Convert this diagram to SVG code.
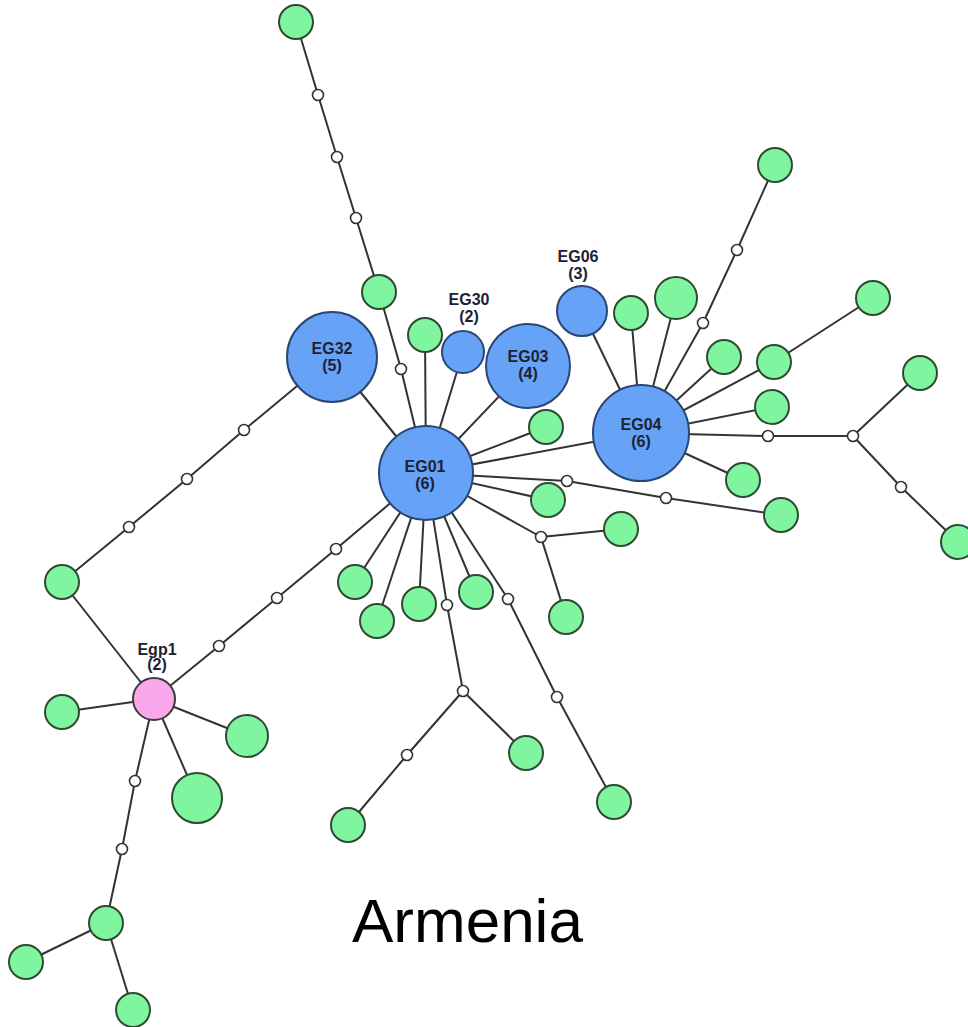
<svg xmlns="http://www.w3.org/2000/svg" width="968" height="1027" viewBox="0 0 968 1027">
  <style>
    .edge { fill: none; stroke: #333; stroke-width: 2; stroke-linejoin: round; }
    .hap { fill: #80f5a0; stroke: #2f4a33; stroke-width: 2; }
    .grp { fill: #66a3f7; stroke: #2b4675; stroke-width: 2; }
    .pink { fill: #f9a8ec; stroke: #3a3a3a; stroke-width: 2; }
    .med { fill: #fff; stroke: #333; stroke-width: 1.6; }
    .lbl { font-family: "Liberation Sans", Arial, sans-serif; font-weight: bold; font-size: 16px; text-anchor: middle; fill: #1c2233; }
    .title { font-family: "Liberation Sans", Arial, sans-serif; font-size: 62px; fill: #000; }
  </style>
  <rect width="968" height="1027" fill="#fff"/>

  <!-- connectors -->
  <g id="connectors" class="edge">
    <polyline points="296,22 318,95 337,157 356,218 379,292 401,369 426,473"/>
    <line x1="425" y1="335" x2="426" y2="473"/>
    <line x1="463" y1="352" x2="426" y2="473"/>
    <line x1="528" y1="366" x2="426" y2="473"/>
    <line x1="332" y1="357" x2="426" y2="473"/>
    <line x1="546" y1="427" x2="426" y2="473"/>
    <line x1="426" y1="473" x2="641" y2="433"/>
    <polyline points="426,473 567,481 666,498 781,515"/>
    <line x1="548" y1="500" x2="426" y2="473"/>
    <polyline points="426,473 541,537 621,529"/>
    <line x1="541" y1="537" x2="566" y2="617"/>
    <line x1="426" y1="473" x2="355" y2="582"/>
    <line x1="426" y1="473" x2="377" y2="621"/>
    <line x1="426" y1="473" x2="419" y2="604"/>
    <polyline points="426,473 447,605 463,691 526,753"/>
    <polyline points="463,691 407,755 348,825"/>
    <line x1="426" y1="473" x2="476" y2="592"/>
    <polyline points="426,473 508,599 557,697 614,802"/>
    <polyline points="426,473 336,549 277,598 219,646 154,699"/>
    <polyline points="332,357 244,430 187,479 129,527 62,582 154,699"/>
    <line x1="154" y1="699" x2="62" y2="712"/>
    <line x1="154" y1="699" x2="247" y2="736"/>
    <line x1="154" y1="699" x2="197" y2="798"/>
    <polyline points="154,699 135,781 122,849 106,923 26,962"/>
    <line x1="106" y1="923" x2="133" y2="1010"/>
    <line x1="582" y1="311" x2="641" y2="433"/>
    <line x1="631" y1="313" x2="641" y2="433"/>
    <line x1="676" y1="298" x2="641" y2="433"/>
    <polyline points="641,433 703,323 737,250 775,165"/>
    <line x1="724" y1="357" x2="641" y2="433"/>
    <polyline points="641,433 774,362 873,298"/>
    <line x1="772" y1="407" x2="641" y2="433"/>
    <polyline points="641,433 768,436 853,436 920,373"/>
    <polyline points="853,436 901,487 958,542"/>
    <line x1="743" y1="480" x2="641" y2="433"/>
  </g>

  <!-- median vectors (unsampled) -->
  <g id="medians">
    <circle class="med" cx="318" cy="95" r="5.5"/>
    <circle class="med" cx="337" cy="157" r="5.5"/>
    <circle class="med" cx="356" cy="218" r="5.5"/>
    <circle class="med" cx="401" cy="369" r="5.5"/>
    <circle class="med" cx="567" cy="481" r="5.5"/>
    <circle class="med" cx="666" cy="498" r="5.5"/>
    <circle class="med" cx="541" cy="537" r="5.5"/>
    <circle class="med" cx="447" cy="605" r="5.5"/>
    <circle class="med" cx="463" cy="691" r="5.5"/>
    <circle class="med" cx="407" cy="755" r="5.5"/>
    <circle class="med" cx="508" cy="599" r="5.5"/>
    <circle class="med" cx="557" cy="697" r="5.5"/>
    <circle class="med" cx="336" cy="549" r="5.5"/>
    <circle class="med" cx="277" cy="598" r="5.5"/>
    <circle class="med" cx="219" cy="646" r="5.5"/>
    <circle class="med" cx="244" cy="430" r="5.5"/>
    <circle class="med" cx="187" cy="479" r="5.5"/>
    <circle class="med" cx="129" cy="527" r="5.5"/>
    <circle class="med" cx="135" cy="781" r="5.5"/>
    <circle class="med" cx="122" cy="849" r="5.5"/>
    <circle class="med" cx="703" cy="323" r="5.5"/>
    <circle class="med" cx="737" cy="250" r="5.5"/>
    <circle class="med" cx="768" cy="436" r="5.5"/>
    <circle class="med" cx="853" cy="436" r="5.5"/>
    <circle class="med" cx="901" cy="487" r="5.5"/>
  </g>

  <!-- single haplotypes -->
  <g id="haplotypes">
    <circle class="hap" cx="296" cy="22" r="17"/>
    <circle class="hap" cx="379" cy="292" r="17"/>
    <circle class="hap" cx="425" cy="335" r="17"/>
    <circle class="hap" cx="546" cy="427" r="17"/>
    <circle class="hap" cx="548" cy="500" r="17"/>
    <circle class="hap" cx="781" cy="515" r="17"/>
    <circle class="hap" cx="621" cy="529" r="17"/>
    <circle class="hap" cx="566" cy="617" r="17"/>
    <circle class="hap" cx="355" cy="582" r="17"/>
    <circle class="hap" cx="377" cy="621" r="17"/>
    <circle class="hap" cx="419" cy="604" r="17"/>
    <circle class="hap" cx="476" cy="592" r="17"/>
    <circle class="hap" cx="526" cy="753" r="17"/>
    <circle class="hap" cx="348" cy="825" r="17"/>
    <circle class="hap" cx="614" cy="802" r="17"/>
    <circle class="hap" cx="62" cy="582" r="17"/>
    <circle class="hap" cx="62" cy="712" r="17"/>
    <circle class="hap" cx="247" cy="736" r="21"/>
    <circle class="hap" cx="197" cy="798" r="25"/>
    <circle class="hap" cx="106" cy="923" r="17"/>
    <circle class="hap" cx="26" cy="962" r="17"/>
    <circle class="hap" cx="133" cy="1010" r="17"/>
    <circle class="hap" cx="631" cy="313" r="17"/>
    <circle class="hap" cx="676" cy="298" r="21"/>
    <circle class="hap" cx="775" cy="165" r="17"/>
    <circle class="hap" cx="724" cy="357" r="17"/>
    <circle class="hap" cx="774" cy="362" r="17"/>
    <circle class="hap" cx="873" cy="298" r="17"/>
    <circle class="hap" cx="772" cy="407" r="17"/>
    <circle class="hap" cx="920" cy="373" r="17"/>
    <circle class="hap" cx="958" cy="542" r="17"/>
    <circle class="hap" cx="743" cy="480" r="17"/>
  </g>

  <!-- shared haplotype groups -->
  <g id="EG32">
    <circle class="grp" cx="332" cy="357" r="45"/>
    <text class="lbl" x="332" y="354">EG32</text>
    <text class="lbl" x="332" y="371">(5)</text>
  </g>
  <g id="EG30">
    <circle class="grp" cx="463" cy="352" r="21"/>
    <text class="lbl" x="469" y="305">EG30</text>
    <text class="lbl" x="469" y="322">(2)</text>
  </g>
  <g id="EG03">
    <circle class="grp" cx="528" cy="366" r="42"/>
    <text class="lbl" x="528" y="362">EG03</text>
    <text class="lbl" x="528" y="379">(4)</text>
  </g>
  <g id="EG06">
    <circle class="grp" cx="582" cy="311" r="25"/>
    <text class="lbl" x="578" y="262">EG06</text>
    <text class="lbl" x="578" y="279">(3)</text>
  </g>
  <g id="EG04">
    <circle class="grp" cx="641" cy="433" r="48"/>
    <text class="lbl" x="641" y="430">EG04</text>
    <text class="lbl" x="641" y="447">(6)</text>
  </g>
  <g id="EG01">
    <circle class="grp" cx="426" cy="473" r="47"/>
    <text class="lbl" x="425" y="472">EG01</text>
    <text class="lbl" x="425" y="489">(6)</text>
  </g>
  <g id="Egp1">
    <circle class="pink" cx="154" cy="699" r="21"/>
    <text class="lbl" x="157" y="655">Egp1</text>
    <text class="lbl" x="157" y="670">(2)</text>
  </g>

  <text class="title" x="352" y="942">Armenia</text>
</svg>
